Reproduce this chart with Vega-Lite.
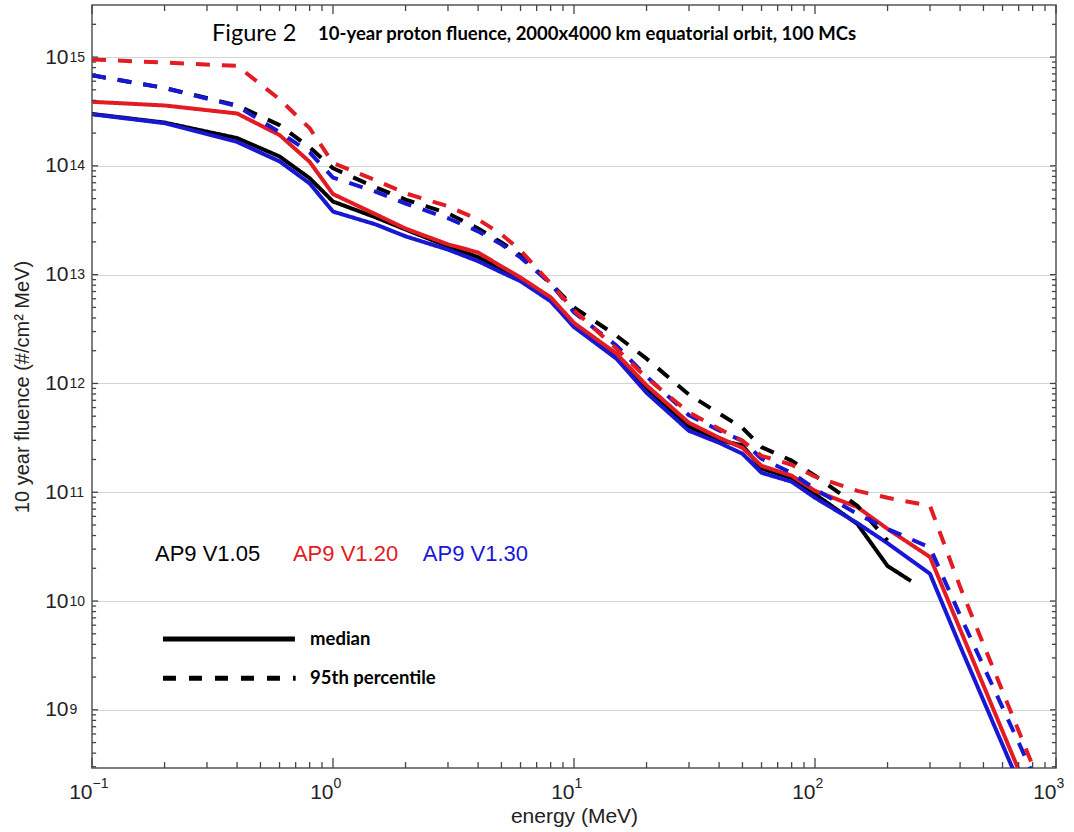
{
  "$schema": "https://vega.github.io/schema/vega-lite/v6.json",
  "width": 964,
  "height": 763,
  "autosize": {"type": "none"},
  "padding": {"left": 92, "top": 5, "right": 18, "bottom": 64},
  "background": "white",
  "config": {
    "view": {"stroke": "#555555", "strokeWidth": 1.5},
    "axis": {"labelFont": "Liberation Sans", "titleFont": "Liberation Sans", "labelColor": "#222222", "titleColor": "#222222", "domain": false, "grid": false, "titleFontWeight": "normal"}
  },
  "datasets": {
    "xticks": [
      {"t": 0.1, "k": "major"}, {"t": 0.2, "k": "minor"}, {"t": 0.3, "k": "minor"}, {"t": 0.4, "k": "minor"}, {"t": 0.5, "k": "minor"}, {"t": 0.6, "k": "minor"}, {"t": 0.7, "k": "minor"}, {"t": 0.8, "k": "minor"}, {"t": 0.9, "k": "minor"},
      {"t": 1, "k": "major"}, {"t": 2, "k": "minor"}, {"t": 3, "k": "minor"}, {"t": 4, "k": "minor"}, {"t": 5, "k": "minor"}, {"t": 6, "k": "minor"}, {"t": 7, "k": "minor"}, {"t": 8, "k": "minor"}, {"t": 9, "k": "minor"},
      {"t": 10, "k": "major"}, {"t": 20, "k": "minor"}, {"t": 30, "k": "minor"}, {"t": 40, "k": "minor"}, {"t": 50, "k": "minor"}, {"t": 60, "k": "minor"}, {"t": 70, "k": "minor"}, {"t": 80, "k": "minor"}, {"t": 90, "k": "minor"},
      {"t": 100, "k": "major"}, {"t": 200, "k": "minor"}, {"t": 300, "k": "minor"}, {"t": 400, "k": "minor"}, {"t": 500, "k": "minor"}, {"t": 600, "k": "minor"}, {"t": 700, "k": "minor"}, {"t": 800, "k": "minor"}, {"t": 900, "k": "minor"},
      {"t": 1000, "k": "major"}
    ],
    "yticks": [
      {"t": 3e8, "k": "minor"}, {"t": 4e8, "k": "minor"}, {"t": 5e8, "k": "minor"}, {"t": 6e8, "k": "minor"}, {"t": 7e8, "k": "minor"}, {"t": 8e8, "k": "minor"}, {"t": 9e8, "k": "minor"},
      {"t": 1e9, "k": "major"}, {"t": 2e9, "k": "minor"}, {"t": 3e9, "k": "minor"}, {"t": 4e9, "k": "minor"}, {"t": 5e9, "k": "minor"}, {"t": 6e9, "k": "minor"}, {"t": 7e9, "k": "minor"}, {"t": 8e9, "k": "minor"}, {"t": 9e9, "k": "minor"},
      {"t": 1e10, "k": "major"}, {"t": 2e10, "k": "minor"}, {"t": 3e10, "k": "minor"}, {"t": 4e10, "k": "minor"}, {"t": 5e10, "k": "minor"}, {"t": 6e10, "k": "minor"}, {"t": 7e10, "k": "minor"}, {"t": 8e10, "k": "minor"}, {"t": 9e10, "k": "minor"},
      {"t": 1e11, "k": "major"}, {"t": 2e11, "k": "minor"}, {"t": 3e11, "k": "minor"}, {"t": 4e11, "k": "minor"}, {"t": 5e11, "k": "minor"}, {"t": 6e11, "k": "minor"}, {"t": 7e11, "k": "minor"}, {"t": 8e11, "k": "minor"}, {"t": 9e11, "k": "minor"},
      {"t": 1e12, "k": "major"}, {"t": 2e12, "k": "minor"}, {"t": 3e12, "k": "minor"}, {"t": 4e12, "k": "minor"}, {"t": 5e12, "k": "minor"}, {"t": 6e12, "k": "minor"}, {"t": 7e12, "k": "minor"}, {"t": 8e12, "k": "minor"}, {"t": 9e12, "k": "minor"},
      {"t": 1e13, "k": "major"}, {"t": 2e13, "k": "minor"}, {"t": 3e13, "k": "minor"}, {"t": 4e13, "k": "minor"}, {"t": 5e13, "k": "minor"}, {"t": 6e13, "k": "minor"}, {"t": 7e13, "k": "minor"}, {"t": 8e13, "k": "minor"}, {"t": 9e13, "k": "minor"},
      {"t": 1e14, "k": "major"}, {"t": 2e14, "k": "minor"}, {"t": 3e14, "k": "minor"}, {"t": 4e14, "k": "minor"}, {"t": 5e14, "k": "minor"}, {"t": 6e14, "k": "minor"}, {"t": 7e14, "k": "minor"}, {"t": 8e14, "k": "minor"}, {"t": 9e14, "k": "minor"},
      {"t": 1e15, "k": "major"}, {"t": 2e15, "k": "minor"}
    ],
    "curves": [
      {"v": "V1.05", "s": "median", "E": 0.1, "F": 3.0e14},
      {"v": "V1.05", "s": "median", "E": 0.2, "F": 2.5e14},
      {"v": "V1.05", "s": "median", "E": 0.4, "F": 1.8e14},
      {"v": "V1.05", "s": "median", "E": 0.6, "F": 1.22e14},
      {"v": "V1.05", "s": "median", "E": 0.8, "F": 7.7e13},
      {"v": "V1.05", "s": "median", "E": 1, "F": 4.7e13},
      {"v": "V1.05", "s": "median", "E": 1.5, "F": 3.37e13},
      {"v": "V1.05", "s": "median", "E": 2, "F": 2.6e13},
      {"v": "V1.05", "s": "median", "E": 3, "F": 1.82e13},
      {"v": "V1.05", "s": "median", "E": 4, "F": 1.45e13},
      {"v": "V1.05", "s": "median", "E": 5, "F": 1.12e13},
      {"v": "V1.05", "s": "median", "E": 6, "F": 9.0e12},
      {"v": "V1.05", "s": "median", "E": 8, "F": 5.9e12},
      {"v": "V1.05", "s": "median", "E": 10, "F": 3.45e12},
      {"v": "V1.05", "s": "median", "E": 15, "F": 1.8e12},
      {"v": "V1.05", "s": "median", "E": 20, "F": 9.0e11},
      {"v": "V1.05", "s": "median", "E": 30, "F": 4.0e11},
      {"v": "V1.05", "s": "median", "E": 40, "F": 3.0e11},
      {"v": "V1.05", "s": "median", "E": 50, "F": 2.7e11},
      {"v": "V1.05", "s": "median", "E": 60, "F": 1.65e11},
      {"v": "V1.05", "s": "median", "E": 80, "F": 1.35e11},
      {"v": "V1.05", "s": "median", "E": 100, "F": 9.6e10},
      {"v": "V1.05", "s": "median", "E": 150, "F": 5.1e10},
      {"v": "V1.05", "s": "median", "E": 200, "F": 2.1e10},
      {"v": "V1.05", "s": "median", "E": 250, "F": 1.53e10},

      {"v": "V1.30", "s": "median", "E": 0.1, "F": 2.98e14},
      {"v": "V1.30", "s": "median", "E": 0.2, "F": 2.47e14},
      {"v": "V1.30", "s": "median", "E": 0.4, "F": 1.66e14},
      {"v": "V1.30", "s": "median", "E": 0.6, "F": 1.1e14},
      {"v": "V1.30", "s": "median", "E": 0.8, "F": 6.9e13},
      {"v": "V1.30", "s": "median", "E": 1, "F": 3.8e13},
      {"v": "V1.30", "s": "median", "E": 1.5, "F": 2.9e13},
      {"v": "V1.30", "s": "median", "E": 2, "F": 2.25e13},
      {"v": "V1.30", "s": "median", "E": 3, "F": 1.7e13},
      {"v": "V1.30", "s": "median", "E": 4, "F": 1.33e13},
      {"v": "V1.30", "s": "median", "E": 5, "F": 1.05e13},
      {"v": "V1.30", "s": "median", "E": 6, "F": 8.7e12},
      {"v": "V1.30", "s": "median", "E": 8, "F": 5.7e12},
      {"v": "V1.30", "s": "median", "E": 10, "F": 3.3e12},
      {"v": "V1.30", "s": "median", "E": 15, "F": 1.69e12},
      {"v": "V1.30", "s": "median", "E": 20, "F": 8.2e11},
      {"v": "V1.30", "s": "median", "E": 30, "F": 3.67e11},
      {"v": "V1.30", "s": "median", "E": 40, "F": 2.85e11},
      {"v": "V1.30", "s": "median", "E": 50, "F": 2.26e11},
      {"v": "V1.30", "s": "median", "E": 60, "F": 1.51e11},
      {"v": "V1.30", "s": "median", "E": 80, "F": 1.25e11},
      {"v": "V1.30", "s": "median", "E": 100, "F": 8.9e10},
      {"v": "V1.30", "s": "median", "E": 150, "F": 5.2e10},
      {"v": "V1.30", "s": "median", "E": 200, "F": 3.4e10},
      {"v": "V1.30", "s": "median", "E": 300, "F": 1.78e10},
      {"v": "V1.30", "s": "median", "E": 400, "F": 3.86e9},
      {"v": "V1.30", "s": "median", "E": 700, "F": 2.15e8},
      {"v": "V1.30", "s": "median", "E": 1000, "F": 3.3e7},

      {"v": "V1.20", "s": "median", "E": 0.1, "F": 3.88e14},
      {"v": "V1.20", "s": "median", "E": 0.2, "F": 3.59e14},
      {"v": "V1.20", "s": "median", "E": 0.4, "F": 3.03e14},
      {"v": "V1.20", "s": "median", "E": 0.6, "F": 1.92e14},
      {"v": "V1.20", "s": "median", "E": 0.8, "F": 1.09e14},
      {"v": "V1.20", "s": "median", "E": 1, "F": 5.5e13},
      {"v": "V1.20", "s": "median", "E": 1.5, "F": 3.6e13},
      {"v": "V1.20", "s": "median", "E": 2, "F": 2.65e13},
      {"v": "V1.20", "s": "median", "E": 3, "F": 1.9e13},
      {"v": "V1.20", "s": "median", "E": 4, "F": 1.6e13},
      {"v": "V1.20", "s": "median", "E": 5, "F": 1.19e13},
      {"v": "V1.20", "s": "median", "E": 6, "F": 9.4e12},
      {"v": "V1.20", "s": "median", "E": 8, "F": 6.2e12},
      {"v": "V1.20", "s": "median", "E": 10, "F": 3.6e12},
      {"v": "V1.20", "s": "median", "E": 15, "F": 1.88e12},
      {"v": "V1.20", "s": "median", "E": 20, "F": 9.6e11},
      {"v": "V1.20", "s": "median", "E": 30, "F": 4.35e11},
      {"v": "V1.20", "s": "median", "E": 40, "F": 3.17e11},
      {"v": "V1.20", "s": "median", "E": 50, "F": 2.56e11},
      {"v": "V1.20", "s": "median", "E": 60, "F": 1.75e11},
      {"v": "V1.20", "s": "median", "E": 80, "F": 1.42e11},
      {"v": "V1.20", "s": "median", "E": 100, "F": 1.03e11},
      {"v": "V1.20", "s": "median", "E": 150, "F": 7.3e10},
      {"v": "V1.20", "s": "median", "E": 200, "F": 4.6e10},
      {"v": "V1.20", "s": "median", "E": 300, "F": 2.54e10},
      {"v": "V1.20", "s": "median", "E": 400, "F": 5.5e9},
      {"v": "V1.20", "s": "median", "E": 700, "F": 2.8e8},
      {"v": "V1.20", "s": "median", "E": 1000, "F": 4.2e7},

      {"v": "V1.05", "s": "p95", "E": 0.1, "F": 6.8e14},
      {"v": "V1.05", "s": "p95", "E": 0.2, "F": 5.2e14},
      {"v": "V1.05", "s": "p95", "E": 0.4, "F": 3.6e14},
      {"v": "V1.05", "s": "p95", "E": 0.6, "F": 2.37e14},
      {"v": "V1.05", "s": "p95", "E": 0.8, "F": 1.48e14},
      {"v": "V1.05", "s": "p95", "E": 1, "F": 9.5e13},
      {"v": "V1.05", "s": "p95", "E": 1.5, "F": 6.35e13},
      {"v": "V1.05", "s": "p95", "E": 2, "F": 4.9e13},
      {"v": "V1.05", "s": "p95", "E": 3, "F": 3.66e13},
      {"v": "V1.05", "s": "p95", "E": 4, "F": 2.66e13},
      {"v": "V1.05", "s": "p95", "E": 5, "F": 1.98e13},
      {"v": "V1.05", "s": "p95", "E": 6, "F": 1.5e13},
      {"v": "V1.05", "s": "p95", "E": 8, "F": 8.3e12},
      {"v": "V1.05", "s": "p95", "E": 10, "F": 5.0e12},
      {"v": "V1.05", "s": "p95", "E": 15, "F": 2.75e12},
      {"v": "V1.05", "s": "p95", "E": 20, "F": 1.69e12},
      {"v": "V1.05", "s": "p95", "E": 30, "F": 7.9e11},
      {"v": "V1.05", "s": "p95", "E": 40, "F": 5.3e11},
      {"v": "V1.05", "s": "p95", "E": 50, "F": 3.9e11},
      {"v": "V1.05", "s": "p95", "E": 60, "F": 2.6e11},
      {"v": "V1.05", "s": "p95", "E": 80, "F": 1.95e11},
      {"v": "V1.05", "s": "p95", "E": 100, "F": 1.42e11},
      {"v": "V1.05", "s": "p95", "E": 150, "F": 7.5e10},
      {"v": "V1.05", "s": "p95", "E": 200, "F": 3.6e10},

      {"v": "V1.30", "s": "p95", "E": 0.1, "F": 6.8e14},
      {"v": "V1.30", "s": "p95", "E": 0.2, "F": 5.2e14},
      {"v": "V1.30", "s": "p95", "E": 0.4, "F": 3.54e14},
      {"v": "V1.30", "s": "p95", "E": 0.6, "F": 2.04e14},
      {"v": "V1.30", "s": "p95", "E": 0.8, "F": 1.33e14},
      {"v": "V1.30", "s": "p95", "E": 1, "F": 7.8e13},
      {"v": "V1.30", "s": "p95", "E": 1.5, "F": 5.8e13},
      {"v": "V1.30", "s": "p95", "E": 2, "F": 4.5e13},
      {"v": "V1.30", "s": "p95", "E": 3, "F": 3.3e13},
      {"v": "V1.30", "s": "p95", "E": 4, "F": 2.5e13},
      {"v": "V1.30", "s": "p95", "E": 5, "F": 1.9e13},
      {"v": "V1.30", "s": "p95", "E": 6, "F": 1.44e13},
      {"v": "V1.30", "s": "p95", "E": 8, "F": 8.3e12},
      {"v": "V1.30", "s": "p95", "E": 10, "F": 4.5e12},
      {"v": "V1.30", "s": "p95", "E": 15, "F": 2.23e12},
      {"v": "V1.30", "s": "p95", "E": 20, "F": 1.16e12},
      {"v": "V1.30", "s": "p95", "E": 30, "F": 5.1e11},
      {"v": "V1.30", "s": "p95", "E": 40, "F": 3.7e11},
      {"v": "V1.30", "s": "p95", "E": 50, "F": 2.97e11},
      {"v": "V1.30", "s": "p95", "E": 60, "F": 2.03e11},
      {"v": "V1.30", "s": "p95", "E": 80, "F": 1.51e11},
      {"v": "V1.30", "s": "p95", "E": 100, "F": 1.07e11},
      {"v": "V1.30", "s": "p95", "E": 150, "F": 6.3e10},
      {"v": "V1.30", "s": "p95", "E": 200, "F": 4.6e10},
      {"v": "V1.30", "s": "p95", "E": 300, "F": 3.1e10},
      {"v": "V1.30", "s": "p95", "E": 400, "F": 7.4e9},
      {"v": "V1.30", "s": "p95", "E": 700, "F": 5.0e8},
      {"v": "V1.30", "s": "p95", "E": 1000, "F": 8.7e7},

      {"v": "V1.20", "s": "p95", "E": 0.1, "F": 9.5e14},
      {"v": "V1.20", "s": "p95", "E": 0.2, "F": 8.9e14},
      {"v": "V1.20", "s": "p95", "E": 0.4, "F": 8.3e14},
      {"v": "V1.20", "s": "p95", "E": 0.6, "F": 4.1e14},
      {"v": "V1.20", "s": "p95", "E": 0.8, "F": 2.22e14},
      {"v": "V1.20", "s": "p95", "E": 1, "F": 1.06e14},
      {"v": "V1.20", "s": "p95", "E": 1.5, "F": 7.4e13},
      {"v": "V1.20", "s": "p95", "E": 2, "F": 5.6e13},
      {"v": "V1.20", "s": "p95", "E": 3, "F": 4.25e13},
      {"v": "V1.20", "s": "p95", "E": 4, "F": 3.22e13},
      {"v": "V1.20", "s": "p95", "E": 5, "F": 2.35e13},
      {"v": "V1.20", "s": "p95", "E": 6, "F": 1.67e13},
      {"v": "V1.20", "s": "p95", "E": 8, "F": 8.3e12},
      {"v": "V1.20", "s": "p95", "E": 10, "F": 4.7e12},
      {"v": "V1.20", "s": "p95", "E": 15, "F": 2.09e12},
      {"v": "V1.20", "s": "p95", "E": 20, "F": 1.13e12},
      {"v": "V1.20", "s": "p95", "E": 30, "F": 5.4e11},
      {"v": "V1.20", "s": "p95", "E": 40, "F": 3.84e11},
      {"v": "V1.20", "s": "p95", "E": 50, "F": 2.97e11},
      {"v": "V1.20", "s": "p95", "E": 60, "F": 2.16e11},
      {"v": "V1.20", "s": "p95", "E": 80, "F": 1.79e11},
      {"v": "V1.20", "s": "p95", "E": 100, "F": 1.39e11},
      {"v": "V1.20", "s": "p95", "E": 150, "F": 1.03e11},
      {"v": "V1.20", "s": "p95", "E": 200, "F": 8.9e10},
      {"v": "V1.20", "s": "p95", "E": 300, "F": 7.5e10},
      {"v": "V1.20", "s": "p95", "E": 400, "F": 1.35e10},
      {"v": "V1.20", "s": "p95", "E": 700, "F": 6.4e8},
      {"v": "V1.20", "s": "p95", "E": 1000, "F": 9.0e7}
    ]
  },
  "layer": [
    {
      "data": {"name": "curves"},
      "mark": {"type": "line", "strokeWidth": 4, "clip": true, "strokeJoin": "round"},
      "encoding": {
        "x": {"field": "E", "type": "quantitative",
          "scale": {"type": "log", "domain": [0.1, 1000], "nice": false},
          "axis": {"orient": "bottom", "values": [0.1, 1, 10, 100, 1000], "ticks": false, "tickSize": 0, "labelExpr": "'10'", "labelFontSize": 21, "labelAlign": "right", "labelDx": 6, "labelBaseline": "top", "labelPadding": 13, "labelFlush": false, "labelOverlap": false, "title": "energy (MeV)", "titleFontSize": 21, "titlePadding": 3}},
        "y": {"field": "F", "type": "quantitative",
          "scale": {"type": "log", "domain": [2.92e8, 3.01e15], "nice": false},
          "axis": {"orient": "left", "values": [1e9, 1e10, 1e11, 1e12, 1e13, 1e14, 1e15], "ticks": false, "tickSize": 0, "grid": true, "gridColor": "#d4d4d4", "gridWidth": 1.2, "labelExpr": "'10'", "labelFontSize": 21, "labelPadding": 24, "labelBaseline": "middle", "labelOverlap": false, "title": "10 year fluence (#/cm² MeV)", "titleFontSize": 20, "titlePadding": 12}},
        "color": {"field": "v", "type": "nominal", "scale": {"domain": ["V1.05", "V1.20", "V1.30"], "range": ["#000000", "#e31b23", "#1717d4"]}, "legend": null},
        "strokeDash": {"field": "s", "type": "nominal", "scale": {"domain": ["median", "p95"], "range": [[1, 0], [14, 12]]}, "legend": null}
      }
    },
    {
      "data": {"name": "xticks"},
      "transform": [{"filter": "datum.k == 'major'"}],
      "mark": {"type": "rule", "color": "#444444", "strokeWidth": 1.3},
      "encoding": {
        "x": {"field": "t", "type": "quantitative", "scale": {"type": "log", "domain": [0.1, 1000], "nice": false}, "axis": null},
        "y": {"datum": 2.92e8, "type": "quantitative", "scale": {"type": "log", "domain": [2.92e8, 3.01e15], "nice": false}, "axis": null},
        "y2": {"datum": 3.61e8}
      }
    },
    {
      "data": {"name": "xticks"},
      "transform": [{"filter": "datum.k == 'minor'"}],
      "mark": {"type": "rule", "color": "#444444", "strokeWidth": 1.3},
      "encoding": {
        "x": {"field": "t", "type": "quantitative", "scale": {"type": "log", "domain": [0.1, 1000], "nice": false}, "axis": null},
        "y": {"datum": 2.92e8, "type": "quantitative", "scale": {"type": "log", "domain": [2.92e8, 3.01e15], "nice": false}, "axis": null},
        "y2": {"datum": 3.31e8}
      }
    },
    {
      "data": {"name": "xticks"},
      "transform": [{"filter": "datum.k == 'major'"}],
      "mark": {"type": "rule", "color": "#444444", "strokeWidth": 1.3},
      "encoding": {
        "x": {"field": "t", "type": "quantitative", "scale": {"type": "log", "domain": [0.1, 1000], "nice": false}, "axis": null},
        "y": {"datum": 3.01e15, "type": "quantitative", "scale": {"type": "log", "domain": [2.92e8, 3.01e15], "nice": false}, "axis": null},
        "y2": {"datum": 2.49e15}
      }
    },
    {
      "data": {"name": "xticks"},
      "transform": [{"filter": "datum.k == 'minor'"}],
      "mark": {"type": "rule", "color": "#444444", "strokeWidth": 1.3},
      "encoding": {
        "x": {"field": "t", "type": "quantitative", "scale": {"type": "log", "domain": [0.1, 1000], "nice": false}, "axis": null},
        "y": {"datum": 3.01e15, "type": "quantitative", "scale": {"type": "log", "domain": [2.92e8, 3.01e15], "nice": false}, "axis": null},
        "y2": {"datum": 2.65e15}
      }
    },
    {
      "data": {"name": "yticks"},
      "transform": [{"filter": "datum.k == 'major'"}],
      "mark": {"type": "rule", "color": "#444444", "strokeWidth": 1.3},
      "encoding": {
        "y": {"field": "t", "type": "quantitative", "scale": {"type": "log", "domain": [2.92e8, 3.01e15], "nice": false}, "axis": null},
        "x": {"datum": 0.1, "type": "quantitative", "scale": {"type": "log", "domain": [0.1, 1000], "nice": false}, "axis": null},
        "x2": {"datum": 0.106}
      }
    },
    {
      "data": {"name": "yticks"},
      "transform": [{"filter": "datum.k == 'minor'"}],
      "mark": {"type": "rule", "color": "#444444", "strokeWidth": 1.3},
      "encoding": {
        "y": {"field": "t", "type": "quantitative", "scale": {"type": "log", "domain": [2.92e8, 3.01e15], "nice": false}, "axis": null},
        "x": {"datum": 0.1, "type": "quantitative", "scale": {"type": "log", "domain": [0.1, 1000], "nice": false}, "axis": null},
        "x2": {"datum": 0.104}
      }
    },
    {
      "data": {"name": "yticks"},
      "transform": [{"filter": "datum.k == 'major'"}],
      "mark": {"type": "rule", "color": "#444444", "strokeWidth": 1.3},
      "encoding": {
        "y": {"field": "t", "type": "quantitative", "scale": {"type": "log", "domain": [2.92e8, 3.01e15], "nice": false}, "axis": null},
        "x": {"datum": 1000, "type": "quantitative", "scale": {"type": "log", "domain": [0.1, 1000], "nice": false}, "axis": null},
        "x2": {"datum": 944}
      }
    },
    {
      "data": {"name": "yticks"},
      "transform": [{"filter": "datum.k == 'minor'"}],
      "mark": {"type": "rule", "color": "#444444", "strokeWidth": 1.3},
      "encoding": {
        "y": {"field": "t", "type": "quantitative", "scale": {"type": "log", "domain": [2.92e8, 3.01e15], "nice": false}, "axis": null},
        "x": {"datum": 1000, "type": "quantitative", "scale": {"type": "log", "domain": [0.1, 1000], "nice": false}, "axis": null},
        "x2": {"datum": 962}
      }
    },
    {
      "data": {"values": [{}]},
      "mark": {"type": "rule", "strokeWidth": 5, "color": "#000000"},
      "encoding": {
        "x": {"datum": 0.197, "type": "quantitative", "scale": {"type": "log", "domain": [0.1, 1000], "nice": false}, "axis": null},
        "x2": {"datum": 0.695},
        "y": {"datum": 4.47e9, "type": "quantitative", "scale": {"type": "log", "domain": [2.92e8, 3.01e15], "nice": false}, "axis": null}
      }
    },
    {
      "data": {"values": [{}]},
      "mark": {"type": "rule", "strokeWidth": 5, "color": "#000000", "strokeDash": [13, 13]},
      "encoding": {
        "x": {"datum": 0.197, "type": "quantitative", "scale": {"type": "log", "domain": [0.1, 1000], "nice": false}, "axis": null},
        "x2": {"datum": 0.70},
        "y": {"datum": 1.95e9, "type": "quantitative", "scale": {"type": "log", "domain": [2.92e8, 3.01e15], "nice": false}, "axis": null}
      }
    },
    {
      "data": {"values": [{}]},
      "mark": {"type": "text", "align": "left", "baseline": "middle", "font": "Liberation Sans", "fontSize": 22, "color": "#000000", "text": "AP9 V1.05"},
      "encoding": {
        "x": {"datum": 0.1825, "type": "quantitative", "scale": {"type": "log", "domain": [0.1, 1000], "nice": false}, "axis": null},
        "y": {"datum": 2.71e10, "type": "quantitative", "scale": {"type": "log", "domain": [2.92e8, 3.01e15], "nice": false}, "axis": null}
      }
    },
    {
      "data": {"values": [{}]},
      "mark": {"type": "text", "align": "left", "baseline": "middle", "font": "Liberation Sans", "fontSize": 22, "color": "#e31b23", "text": "AP9 V1.20"},
      "encoding": {
        "x": {"datum": 0.682, "type": "quantitative", "scale": {"type": "log", "domain": [0.1, 1000], "nice": false}, "axis": null},
        "y": {"datum": 2.71e10, "type": "quantitative", "scale": {"type": "log", "domain": [2.92e8, 3.01e15], "nice": false}, "axis": null}
      }
    },
    {
      "data": {"values": [{}]},
      "mark": {"type": "text", "align": "left", "baseline": "middle", "font": "Liberation Sans", "fontSize": 22, "color": "#1717d4", "text": "AP9 V1.30"},
      "encoding": {
        "x": {"datum": 2.36, "type": "quantitative", "scale": {"type": "log", "domain": [0.1, 1000], "nice": false},
          "axis": {"orient": "bottom", "values": [0.1, 1, 10, 100, 1000], "ticks": false, "tickSize": 0, "labelExpr": "format(round(log(datum.value)/LN10), 'd')", "labelFontSize": 14, "labelAlign": "left", "labelDx": 7, "labelBaseline": "top", "labelPadding": 8, "labelFlush": false, "labelOverlap": false, "title": null}},
        "y": {"datum": 2.71e10, "type": "quantitative", "scale": {"type": "log", "domain": [2.92e8, 3.01e15], "nice": false},
          "axis": {"orient": "left", "values": [1e9, 1e10, 1e11, 1e12, 1e13, 1e14, 1e15], "ticks": false, "tickSize": 0, "labelExpr": "format(round(log(datum.value)/LN10), 'd')", "labelFontSize": 14, "labelAlign": "left", "labelBaseline": "middle", "labelDy": -10, "labelPadding": 23, "labelOverlap": false, "title": null}}
      }
    },
    {
      "data": {"values": [{}]},
      "mark": {"type": "text", "align": "left", "baseline": "middle", "font": "Lato", "fontWeight": "bold", "fontSize": 18.5, "color": "#000000", "text": "median"},
      "encoding": {
        "x": {"datum": 0.803, "type": "quantitative", "scale": {"type": "log", "domain": [0.1, 1000], "nice": false}, "axis": null},
        "y": {"datum": 4.47e9, "type": "quantitative", "scale": {"type": "log", "domain": [2.92e8, 3.01e15], "nice": false}, "axis": null}
      }
    },
    {
      "data": {"values": [{}]},
      "mark": {"type": "text", "align": "left", "baseline": "middle", "font": "Lato", "fontWeight": "bold", "fontSize": 18.5, "color": "#000000", "text": "95th percentile"},
      "encoding": {
        "x": {"datum": 0.803, "type": "quantitative", "scale": {"type": "log", "domain": [0.1, 1000], "nice": false}, "axis": null},
        "y": {"datum": 1.95e9, "type": "quantitative", "scale": {"type": "log", "domain": [2.92e8, 3.01e15], "nice": false}, "axis": null}
      }
    },
    {
      "data": {"values": [{}]},
      "mark": {"type": "text", "align": "left", "baseline": "middle", "font": "Lato", "fontSize": 23.5, "color": "#000000", "text": "Figure 2"},
      "encoding": {
        "x": {"datum": 0.315, "type": "quantitative", "scale": {"type": "log", "domain": [0.1, 1000], "nice": false}, "axis": null},
        "y": {"datum": 1.63e15, "type": "quantitative", "scale": {"type": "log", "domain": [2.92e8, 3.01e15], "nice": false}, "axis": null}
      }
    },
    {
      "data": {"values": [{}]},
      "mark": {"type": "text", "align": "left", "baseline": "middle", "font": "Lato", "fontWeight": "bold", "fontSize": 18.5, "color": "#000000", "text": "10-year proton fluence, 2000x4000 km equatorial orbit, 100 MCs"},
      "encoding": {
        "x": {"datum": 0.867, "type": "quantitative", "scale": {"type": "log", "domain": [0.1, 1000], "nice": false}, "axis": null},
        "y": {"datum": 1.63e15, "type": "quantitative", "scale": {"type": "log", "domain": [2.92e8, 3.01e15], "nice": false}, "axis": null}
      }
    }
  ],
  "resolve": {"axis": {"x": "independent", "y": "independent"}}
}
